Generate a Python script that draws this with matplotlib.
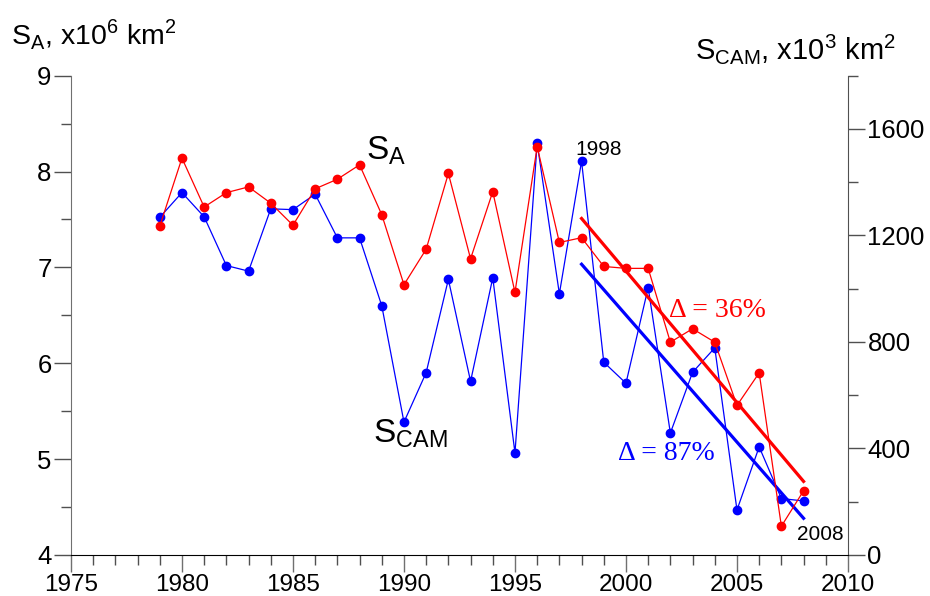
import numpy as np
import matplotlib
matplotlib.use('Agg')
import matplotlib.pyplot as plt
from matplotlib.ticker import MultipleLocator

plt.rcParams['font.family'] = ['Liberation Sans', 'DejaVu Sans']
plt.rcParams['mathtext.fontset'] = 'custom'
plt.rcParams['mathtext.rm'] = 'Liberation Sans'

years = list(range(1979, 2009))
# S_A, x10^6 km^2
s_a = [7.43, 8.14, 7.63, 7.78, 7.84, 7.67, 7.44, 7.82, 7.92, 8.07,
       7.55, 6.82, 7.19, 7.98, 7.09, 7.79, 6.74, 8.26, 7.26, 7.31,
       7.01, 6.99, 6.99, 6.22, 6.36, 6.22, 5.56, 5.90, 4.30, 4.67]
# S_CAM, x10^3 km^2
s_cam = [1268, 1361, 1270, 1087, 1066, 1300, 1297, 1355, 1191, 1191,
         936, 499, 685, 1035, 652, 1041, 383, 1546, 981, 1479,
         724, 645, 1004, 458, 686, 778, 169, 406, 212, 203]
trend_start, trend_end = 1998, 2008

red = '#ff0000'
blue = '#0000ff'

fig = plt.figure(figsize=(9.3, 5.96), dpi=100)
ax = fig.add_axes([0.0763, 0.0688, 0.8355, 0.8042])
ax2 = ax.twinx()
ax.set_zorder(ax2.get_zorder() + 1)
ax.patch.set_visible(False)

yrs = np.array(years)
sel = (yrs >= trend_start) & (yrs <= trend_end)
tx = np.array([trend_start, trend_end])

# blue series on right axis
ax2.plot(years, s_cam, color=blue, lw=0.9, marker='o', ms=6, mec=blue, mfc=blue)
k, b = np.polyfit(yrs[sel], np.array(s_cam)[sel], 1)
ax2.plot(tx, k * tx + b, color=blue, lw=2.3)

# red series on left axis
ax.plot(years, s_a, color=red, lw=0.9, marker='o', ms=6, mec=red, mfc=red)
k2, b2 = np.polyfit(yrs[sel], np.array(s_a)[sel], 1)
ax.plot(tx, k2 * tx + b2, color=red, lw=2.3)

ax.set_xlim(1975, 2010)
ax.set_ylim(4, 9)
ax2.set_ylim(0, 1800)

ax.xaxis.set_major_locator(MultipleLocator(5))
ax.xaxis.set_minor_locator(MultipleLocator(1))
ax.yaxis.set_major_locator(MultipleLocator(1))
ax.yaxis.set_minor_locator(MultipleLocator(0.5))
ax2.yaxis.set_major_locator(MultipleLocator(400))
ax2.yaxis.set_minor_locator(MultipleLocator(200))

for a in (ax, ax2):
    a.spines['top'].set_visible(False)
ax.spines['right'].set_visible(False)
ax2.spines['left'].set_visible(False)
ax2.spines['bottom'].set_visible(False)
ax.spines['left'].set_color('#707070')
ax2.spines['right'].set_color('#505050')
ax.spines['bottom'].set_color('black')

ax.tick_params(axis='x', which='major', direction='out', length=12, width=1,
               color='#707070', labelsize=17.5, pad=1.5)
ax.tick_params(axis='x', which='minor', direction='out', length=7, width=1, color='#505050')
ax.tick_params(axis='y', which='major', direction='out', length=12, width=1,
               color='#505050', labelsize=18.5, pad=2)
ax.tick_params(axis='y', which='minor', direction='out', length=7, width=1, color='#505050')
ax2.tick_params(axis='y', which='major', direction='out', length=12, width=1,
                color='#505050', labelsize=18.5, pad=2)
ax2.tick_params(axis='y', which='minor', direction='out', length=7, width=1, color='#505050')

# axis titles
fig.text(0.012, 0.925, r'S$_\mathrm{A}$, x10$^\mathrm{6}$ km$^\mathrm{2}$', fontsize=20.5)
fig.text(0.747, 0.9, r'S$_\mathrm{CAM}$, x10$^\mathrm{3}$ km$^\mathrm{2}$', fontsize=21)

# series labels
ax.text(1988.3, 8.05, r'S$_\mathrm{A}$', fontsize=24, va='bottom')
ax.text(1988.6, 5.1, r'S$_\mathrm{CAM}$', fontsize=24, va='bottom')
ax2.text(1998.78, 1502, '1998', fontsize=15, ha='center', va='baseline')
ax2.text(2008.76, 56, '2008', fontsize=15, ha='center', va='baseline')

ax.text(2001.96, 6.48, '\u0394 = 36%', color=red, fontsize=20,
        family='Liberation Serif', va='baseline')
ax.text(1999.66, 4.99, '\u0394 = 87%', color=blue, fontsize=20,
        family='Liberation Serif', va='baseline')

fig.savefig('out.png', dpi=100)
